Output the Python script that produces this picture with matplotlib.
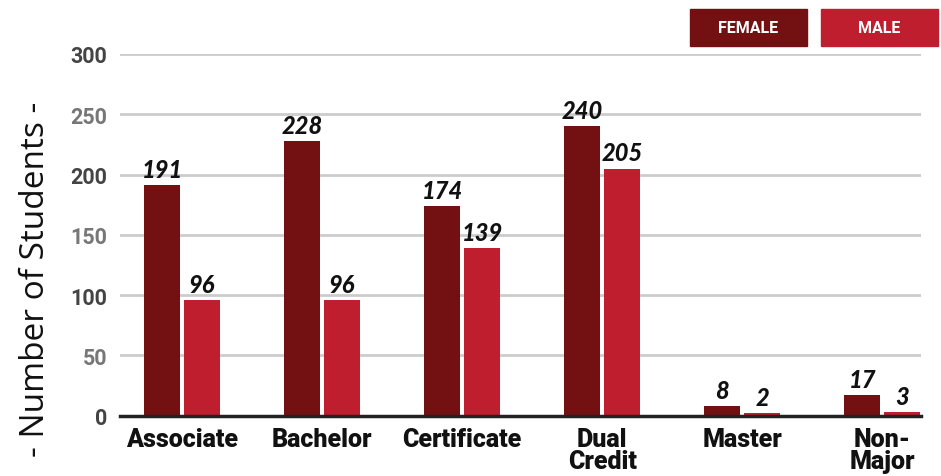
import numpy as np
import matplotlib
matplotlib.use("Agg")
import matplotlib.pyplot as plt
from matplotlib.patches import Rectangle

# data
categories = ["Associate", "Bachelor", "Certificate", "Dual\nCredit", "Master", "Non-\nMajor"]
female = [191, 228, 174, 240, 8, 17]
male = [96, 96, 139, 205, 2, 3]
yticks = [0, 50, 100, 150, 200, 250, 300]

c_female = "#731012"
c_male = "#BE1E2D"
cond = ["Liberation Sans Narrow", "Roboto", "DejaVu Sans"]

fig = plt.figure(figsize=(9.41, 4.77), dpi=100)
ax = fig.add_axes([0.1275, 0.1264, 0.8515, 0.7583])

x = np.arange(len(categories))
w = 0.257
off = 0.143
bf = ax.bar(x - off, female, w, color=c_female, zorder=3)
bm = ax.bar(x + off, male, w, color=c_male, zorder=3)

for bars, vals in ((bf, female), (bm, male)):
    for b, v in zip(bars, vals):
        ax.annotate(str(v), (b.get_x() + b.get_width() / 2, b.get_height()),
                    xytext=(0, 3), textcoords="offset points", ha="center", va="bottom",
                    fontsize=17, fontweight="black", fontstyle="italic",
                    family=["Lato", "DejaVu Sans"], color="#111111", zorder=4)

ax.set_xlim(-0.443, 5.279)
ax.set_ylim(0, 300)
ax.set_yticks(yticks)
ax.set_yticklabels([str(t) for t in yticks])
for i, lab in enumerate(ax.get_yticklabels()):
    lab.set_color("#444444" if i % 2 == 0 else "#777777")
    lab.set_fontweight("bold")
    lab.set_fontsize(15.5)
    lab.set_family(cond)
ax.tick_params(axis="y", length=0, pad=9)

ax.set_xticks(x)
ax.set_xticklabels(categories, fontsize=18, fontweight="black", family=cond,
                   color="#111111", linespacing=0.9)
ax.tick_params(axis="x", length=0, pad=8)

ax.grid(axis="y", color="#cccccc", lw=2, zorder=0)
for s in ["top", "right", "left"]:
    ax.spines[s].set_visible(False)
ax.spines["bottom"].set_color("#222222")
ax.spines["bottom"].set_linewidth(2.5)
ax.spines["bottom"].set_zorder(5)

ax.set_ylabel("- Number of Students -", fontsize=24, color="#111111",
              family=["Open Sans", "DejaVu Sans"])
ax.yaxis.set_label_coords(-0.085, 0.38)

# legend boxes
for lx, lab, col in ((690, "FEMALE", c_female), (821, "MALE", c_male)):
    fig.patches.append(Rectangle((lx / 941, 1 - 47 / 477), 117 / 941, 37 / 477,
                                 transform=fig.transFigure, color=col))
    fig.text((lx + 58.5) / 941, 1 - 28.5 / 477, lab, ha="center", va="center",
             color="white", fontsize=11.5, fontweight="bold", family=cond)

fig.savefig("out.png", dpi=100)
